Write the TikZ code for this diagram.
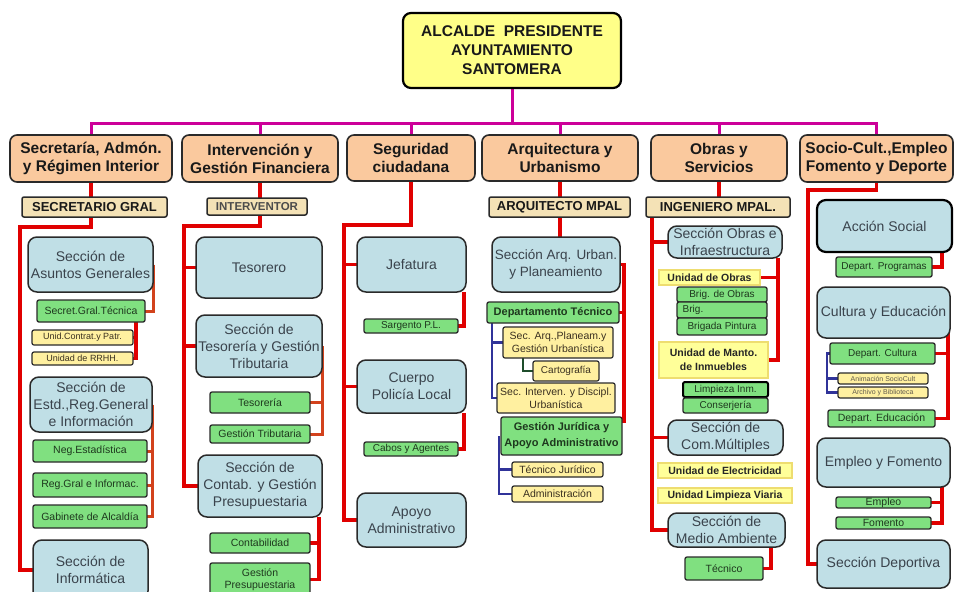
\documentclass[tikz,border=0pt]{standalone}
\usepackage{fontspec}
\setmainfont{Liberation Sans}
\usetikzlibrary{backgrounds,calc}
\definecolor{ytop}{HTML}{FFFF88}
\definecolor{depc}{HTML}{FAC99E}
\definecolor{hdc}{HTML}{F4E2B6}
\definecolor{secc}{HTML}{C0DFE6}
\definecolor{grc}{HTML}{80E080}
\definecolor{pyc}{HTML}{FFF0A0}
\definecolor{uyc}{HTML}{FFFF99}
\definecolor{uyb}{HTML}{EEDD70}
\definecolor{rdc}{HTML}{E00000}
\definecolor{orc}{HTML}{D2421C}
\definecolor{mgc}{HTML}{CC0099}
\definecolor{blc}{HTML}{303399}
\definecolor{dgc}{HTML}{1E4D2B}
\definecolor{bdc}{HTML}{2A2A2A}
\definecolor{stc}{HTML}{3A434C}
\definecolor{gtc}{HTML}{1E381E}
\definecolor{ytc}{HTML}{3A3020}
\newcommand\fs[2]{\fontsize{#1}{#2}\selectfont}
\newcommand\bx[7]{\node[#1,minimum width={(#5-(#3))*1pt},minimum height={(#6-(#4))*1pt}] (#2) at ({(#3+#5)/2},{(#4+#6)/2}) {#7};}
\tikzset{
  boxbase/.style={align=center,inner xsep=1pt,inner ysep=0pt,outer sep=0pt},
  topbox/.style={boxbase,fill=ytop,draw=black,line width=2.2pt,rounded corners=8pt,font=\bfseries\fs{15.5}{19},text=black!90},
  dept/.style={boxbase,fill=depc,draw=bdc,line width=1.6pt,rounded corners=7pt,font=\bfseries\fs{15.5}{18},text=black!90},
  head/.style={boxbase,fill=hdc,draw=bdc,line width=1.5pt,rounded corners=2pt,font=\bfseries\fs{13}{15},text=black!90},
  headsm/.style={head,font=\bfseries\fs{11.5}{13},text=black!70},
  sect/.style={boxbase,fill=secc,draw=bdc,line width=1.5pt,rounded corners=9pt,font=\fs{14}{17},text=stc},
  grn/.style={boxbase,fill=grc,draw=bdc,line width=1.3pt,rounded corners=2pt,font=\fs{10.5}{13},text=gtc},
  grnb/.style={grn,font=\bfseries\fs{11}{16}},
  pyel/.style={boxbase,fill=pyc,draw=bdc,line width=1.2pt,rounded corners=2pt,font=\fs{10.5}{13},text=ytc},
  uyel/.style={boxbase,fill=uyc,draw=uyb,line width=1.3pt,font=\bfseries\fs{10.5}{14},text=black!85},
  rl/.style={draw=rdc,line width=3.2pt},
  ol/.style={draw=orc,line width=3pt},
  mag/.style={draw=mgc,line width=3pt},
  bll/.style={draw=blc,line width=2.6pt},
  dgl/.style={draw=dgc,line width=2.6pt}
}
\begin{document}
\begin{tikzpicture}[x=1pt,y=-1pt]
\useasboundingbox (0,0) rectangle (954,592);
\clip (0,0) rectangle (954,592);
% top and departments
\bx{topbox}{top}{403}{13}{621}{88}{ALCALDE\ \ PRESIDENTE\\AYUNTAMIENTO\\SANTOMERA}
\bx{dept}{d1}{10}{135}{172}{182}{Secretaría, Admón.\\y Régimen Interior}
\bx{dept}{d2}{182}{135}{338}{182}{Intervención y\\Gestión Financiera}
\bx{dept}{d3}{347}{135}{475}{181}{Seguridad\\ciudadana}
\bx{dept}{d4}{482}{135}{638}{181}{Arquitectura y\\Urbanismo}
\bx{dept}{d5}{651}{135}{787}{181}{Obras y\\Servicios}
\bx{dept}{d6}{800}{135}{953}{182}{Socio-Cult.,Empleo\\Fomento y Deporte}
% heads
\bx{head}{h1}{22}{197}{167}{217}{SECRETARIO GRAL}
\bx{headsm}{h2}{207}{198}{307}{215}{INTERVENTOR}
\bx{head}{h4}{489}{197}{630}{217}{ARQUITECTO MPAL}
\bx{head}{h5}{646}{197}{790}{217}{INGENIERO MPAL.}
% Secretaria column
\bx{sect}{ag}{28}{237}{153}{292}{Sección de\\Asuntos Generales}
\bx{grn}{sgt}{37}{300}{145}{322}{Secret.Gral.Técnica}
\bx{pyel,font=\fs{9}{11}}{uc}{32}{330}{133}{345}{Unid.Contrat.y Patr.}
\bx{pyel,font=\fs{9}{11}}{ur}{32}{352}{133}{365}{Unidad de RRHH.}
\bx{sect}{es}{30}{377}{152}{432}{Sección de\\Estd.,Reg.General\\e Información}
\bx{grn}{ne}{33}{440}{147}{462}{Neg.Estadística}
\bx{grn}{rg}{33}{473}{147}{497}{Reg.Gral e Informac.}
\bx{grn}{gb}{33}{505}{147}{528}{Gabinete de Alcaldía}
\bx{sect}{inf}{33}{540}{148}{600}{Sección de\\Informática}
% Intervencion column
\bx{sect}{tes}{196}{237}{322}{298}{Tesorero}
\bx{sect}{st}{196}{315}{322}{377}{Sección de\\Tesorería y Gestión\\Tributaria}
\bx{grn}{tsr}{210}{392}{310}{413}{Tesorería}
\bx{grn}{gt}{210}{425}{310}{443}{Gestión Tributaria}
\bx{sect}{cp}{198}{455}{322}{517}{Sección de\\Contab. y Gestión\\Presupuestaria}
\bx{grn}{cb}{210}{533}{310}{553}{Contabilidad}
\bx{grn,font=\fs{10.5}{12.5}}{gpr}{210}{563}{310}{596}{Gestión\\Presupuestaria}
% Seguridad column
\bx{sect}{jef}{357}{237}{466}{292}{Jefatura}
\bx{grn,font=\fs{10}{12}}{sar}{364}{319}{458}{333}{Sargento P.L.}
\bx{sect}{cue}{357}{360}{466}{413}{Cuerpo\\Policía Local}
\bx{grn,font=\fs{10}{12}}{cab}{364}{442}{458}{456}{Cabos y Agentes}
\bx{sect}{apo}{357}{493}{466}{547}{Apoyo\\Administrativo}
% Arquitectura column
\bx{sect,font=\fs{13.5}{17}}{sa}{492}{237}{620}{292}{Sección Arq. Urban.\\y Planeamiento}
\bx{grnb}{dt}{487}{302}{619}{323}{Departamento Técnico}
\bx{pyel}{sq}{503}{327}{613}{358}{Sec. Arq.,Planeam.y\\Gestión Urbanística}
\bx{pyel,font=\fs{10}{12}}{car}{533}{361}{599}{381}{Cartografía}
\bx{pyel}{si}{497}{383}{615}{413}{Sec. Interven. y Discipl.\\Urbanística}
\bx{grnb}{gj}{501}{417}{622}{455}{Gestión Jurídica y\\Apoyo Administrativo}
\bx{pyel}{tj}{512}{462}{603}{477}{Técnico Jurídico}
\bx{pyel}{adm}{512}{486}{603}{502}{Administración}
% Obras column
\bx{sect}{so}{668}{226}{782}{258}{Sección Obras e\\Infraestructura}
\bx{uyel}{uo}{659}{270}{760}{285}{Unidad de Obras}
\bx{grn,font=\fs{10}{12}}{bo}{677}{287}{767}{302}{Brig. de Obras}
\bx{grn,font=\fs{10}{12}}{br}{677}{302}{767}{318}{Brig.\hspace*{58pt}}
\bx{grn,font=\fs{10}{12}}{bp}{677}{318}{767}{335}{Brigada Pintura}
\bx{uyel}{um}{659}{342}{768}{378}{Unidad de Manto.\\de Inmuebles}
\bx{grn,font=\fs{10}{12},draw=black,line width=2pt}{li}{683}{382}{768}{397}{Limpieza Inm.}
\bx{grn,font=\fs{10}{12}}{co}{683}{398}{768}{413}{Conserjería}
\bx{sect}{cm}{668}{420}{783}{455}{Sección de\\Com.Múltiples}
\bx{uyel}{uel}{658}{463}{792}{478}{Unidad de Electricidad}
\bx{uyel}{ulv}{658}{488}{792}{503}{Unidad Limpieza Viaria}
\bx{sect}{ma}{668}{513}{785}{547}{Sección de\\Medio Ambiente}
\bx{grn}{tec}{685}{557}{763}{580}{Técnico}
% Socio column
\bx{sect,draw=black,line width=2.2pt}{as}{817}{200}{952}{252}{Acción Social}
\bx{grn,font=\fs{10}{12}}{dp}{836}{257}{932}{277}{Depart. Programas}
\bx{sect}{ce}{817}{287}{950}{338}{Cultura y Educación}
\bx{grn,font=\fs{10}{12}}{dc}{830}{343}{935}{364}{Depart. Cultura}
\bx{pyel,font=\fs{7}{8},text=ytc!80}{an}{838}{373}{928}{384}{Animación SocioCult}
\bx{pyel,font=\fs{7}{8},text=ytc!80}{ar}{838}{387}{928}{398}{Archivo y Biblioteca}
\bx{grn,font=\fs{10.5}{12}}{de}{828}{410}{935}{427}{Depart. Educación}
\bx{sect}{ef}{817}{438}{950}{487}{Empleo y Fomento}
\bx{grn}{em}{836}{497}{931}{508}{Empleo}
\bx{grn}{fo}{836}{517}{931}{529}{Fomento}
\bx{sect}{dep}{817}{540}{950}{588}{Sección Deportiva}
% connectors
\begin{scope}[on background layer]
\fill[white] (0,0) rectangle (954,592);
\coordinate (bus) at (0,123);
\draw[mag] (top.south) -- (top.south |- bus);
\draw[mag] (d1.north) -- (d1.north |- bus) -- (d6.north |- bus) -- (d6.north);
\foreach \d in {d2,d3,d4,d5} \draw[mag] (\d.north) -- (\d.north |- bus);
% Secretaria
\coordinate (t1) at (20,227);
\draw[rl] (d1.south) -- (d1.south |- h1.north);
\draw[rl] (h1.south -| d1.south) |- (t1) |- (inf.west);
\draw[ol] (ag.east) |- (sgt.east);
\draw[rl] ([xshift=-9pt]sgt.south east) |- (uc.east) ([xshift=-9pt]sgt.south east) |- (ur.east);
\draw[ol] (es.east) |- (ne.east) (es.east) |- (rg.east) (es.east) |- (gb.east);
% Intervencion
\coordinate (t2) at (184,226);
\draw[rl] (d2.south) -- (d2.south |- h2.north);
\draw[rl] (h2.south -| d2.south) |- (t2) |- (cp.west);
\draw[rl] (t2) |- (tes.west) (t2) |- (st.west);
\draw[ol] (st.east) |- (tsr.east) (st.east) |- (gt.east);
\draw[rl] ([xshift=-3pt]cp.south east) |- (cb.east) ([xshift=-3pt]cp.south east) |- (gpr.east);
% Seguridad
\coordinate (t3) at (344,225);
\draw[rl] (d3.south) |- (t3) |- (apo.west);
\draw[rl] (t3) |- (jef.west) (t3) |- (cue.west);
\draw[rl] ([xshift=-2pt]jef.south east) |- (sar.east);
\draw[rl] ([xshift=-2pt]cue.south east) |- (cab.east);
% Arquitectura
\draw[rl] (d4.south) -- (d4.south |- sa.north);
\draw[rl] (sa.east) -- ++(4,0) |- (dt.east);
\draw[rl] (sa.east) -- ++(4,0) |- ([yshift=-4pt]gj.north east);
\draw[bll] ([xshift=5pt]dt.south west) |- (sq.west) ([xshift=5pt]dt.south west) |- (si.west);
\draw[dgl] ([xshift=20pt]sq.south west) |- (car.west);
\draw[bll] ([xshift=-2pt]gj.west) |- (tj.west) ([xshift=-2pt]gj.west) |- (adm.west);
% Obras
\draw[rl] (d5.south) -- (d5.south |- h5.north);
\draw[rl] ([xshift=6pt]h5.south west) |- (ma.west);
\draw[rl] ([xshift=6pt]h5.south west) |- (so.west) ([xshift=6pt]h5.south west) |- (cm.west);
\draw[rl] ([xshift=-4pt]so.south east) |- (uo.east) ([xshift=-4pt]so.south east) |- (um.east);
\draw[rl] ([xshift=-14pt]ma.south east) |- (tec.east);
% Socio
\coordinate (t6) at (808,190);
\draw[rl] (d6.south) |- (t6) |- (dep.west);
\draw[rl] ([xshift=-10pt]as.south east) |- (dp.east);
\draw[rl] ([xshift=-2pt]ce.east) |- (dc.east) ([xshift=-2pt]ce.east) |- (de.east);
\draw[bll] (dc.west) -- ++(-3,0) |- (an.west) (dc.west) -- ++(-3,0) |- (ar.west);
\draw[rl] ([xshift=-8pt]ef.south east) |- (em.east) ([xshift=-8pt]ef.south east) |- (fo.east);
\end{scope}
\end{tikzpicture}
\end{document}
